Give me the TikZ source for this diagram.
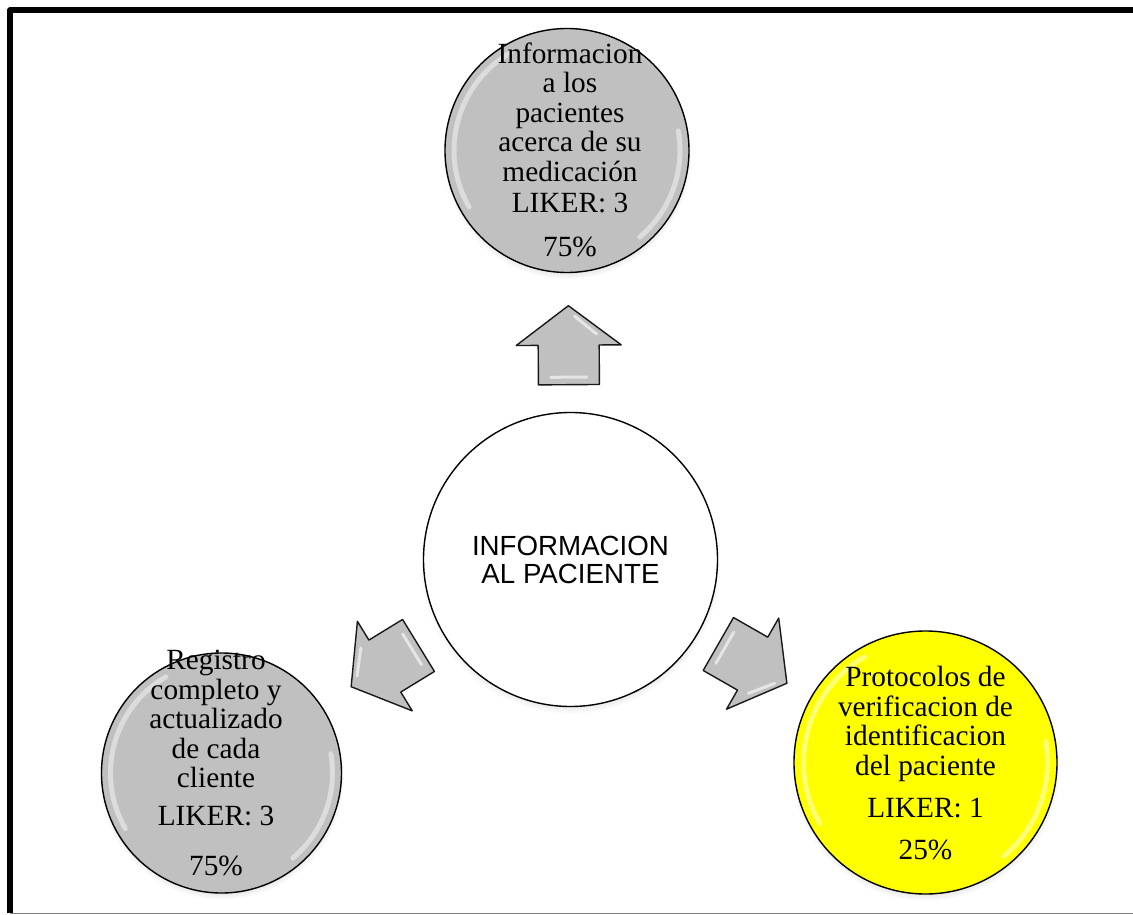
\documentclass[tikz,border=0pt]{standalone}
\usepackage{fontspec}
\setmainfont{Liberation Serif}
\newfontfamily\arialf{Liberation Sans}
\usetikzlibrary{calc,shadows,fadings}
\definecolor{gfill}{RGB}{192,192,192}
\definecolor{yfill}{RGB}{255,255,0}
\definecolor{frameline}{RGB}{128,128,128}
\tikzset{
  bubble/.style={circle, draw=black, line width=1.4pt, inner sep=0pt,
    circular drop shadow={shadow xshift=0pt, shadow yshift=-4pt, shadow scale=1.02, opacity=0.45}},
  lbl/.style={align=center, inner sep=0pt, font=\fontsize{29.3}{29.5}\selectfont},
  centerlbl/.style={align=center, font=\arialf\fontsize{27.7}{28}\selectfont},
  blockarrow/.style={fill=gfill, draw=black!90, line width=1.4pt, line join=round},
  arrowgloss/.style={white, line width=3pt, opacity=0.6, line cap=round},
  gloss/.style={white, line width=5pt, opacity=0.45, line cap=round},
}
\newcommand\glossring[2]{%
  \begin{scope}[shift={(#1.center)}, x=1pt, y=1pt]
    \draw[gloss] (120:#2) arc (120:210:#2);
    \draw[gloss] (-50:#2) arc (-50:10:#2);
  \end{scope}}
\newcommand\blockarrowat[2]{%
  \begin{scope}[shift={(#1)}, rotate=#2]
    \filldraw[blockarrow] (-30.5,39.5) -- (30.5,39.5) -- (30.5,0) -- (52.5,0)
      -- (0,-39.5) -- (-52.5,0) -- (-30.5,0) -- cycle;
    \draw[arrowgloss] (6,-29) -- (28,-11);
    \draw[arrowgloss] (-18,32) -- (18,32);
  \end{scope}}
\begin{document}
\begin{tikzpicture}[x=1pt,y=-1pt]
\useasboundingbox (0,0) rectangle (1133,915);
\fill[white] (0,0) rectangle (1133,915);
% frame
\draw[frameline, line width=1pt] (10,913) -- (1133,913);
\draw[black, line width=6pt, line join=round] (10.3,913) -- (10.3,10.3) -- (1133,10.3);

% circles
\node[bubble, fill=gfill, minimum size=244pt] (t) at (567,150.5) {};
\node[bubble, fill=gfill, minimum size=240pt] (bl) at (221.5,773) {};
\node[bubble, fill=yfill, minimum size=263pt] (br) at (925.5,762.5) {};
\node[bubble, fill=white, minimum size=294pt, centerlbl] (c) at (570.5,559.5) {INFORMACION\\AL PACIENTE};

\glossring{t}{113}
\glossring{bl}{111}
\glossring{br}{122}

% labels
\node[lbl] (tlbl) at ($(t.center)+(3,-1)$) {Informacion\\a los\\pacientes\\acerca de su\\medicación\\[2pt]LIKER: 3\\[14pt]75\%};
\node[lbl] (bllbl) at ($(bl.center)+(-5.5,-10)$) {Registro\\completo y\\actualizado\\de cada\\cliente\\[8pt]LIKER: 3\\[21pt]75\%};
\node[lbl] (brlbl) at ($(br.center)+(0,0.5)$) {Protocolos de\\verificacion de\\identificacion\\del paciente\\[13pt]LIKER: 1\\[12pt]25\%};

% block arrows from the centre to each circle
\coordinate (aup) at ($(c)!0.524!(t)$);
\coordinate (aleft) at ($(c)!0.532!(bl)+(0,-7)$);
\coordinate (aright) at ($(c)!0.513!(br)$);
\blockarrowat{aup}{0.4}
\blockarrowat{aleft}{121.5}
\blockarrowat{aright}{-119.8}
\end{tikzpicture}
\end{document}
